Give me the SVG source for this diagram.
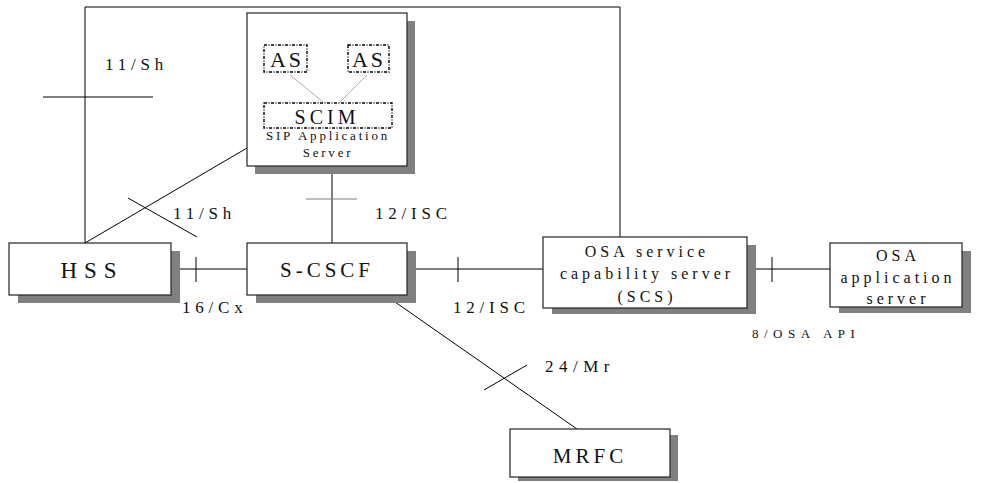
<svg xmlns="http://www.w3.org/2000/svg" width="990" height="483" viewBox="0 0 990 483">
<style>
.box{fill:#fff;stroke:#222;stroke-width:1.2}
.sh{fill:#808080}
.dot{fill:none;stroke:#000;stroke-width:1.4;stroke-dasharray:3 1.5 1 1.5}
.ln{stroke:#000;stroke-width:1;fill:none}
.t{font-family:"Liberation Serif","Times New Roman",serif;fill:#111}
.big{font-size:21px;letter-spacing:4px}
.lbl{font-size:17px;letter-spacing:4.8px}
.mid{font-size:16px;letter-spacing:4px;text-anchor:middle}
</style>
<rect width="990" height="483" fill="#fff"/>
<g id="connectors">
<polyline class="ln" points="85,243 85,7 620,7 620,237" stroke="#333"/>
<line class="ln" x1="43" y1="97" x2="153" y2="97"/>
<line class="ln" x1="85" y1="243" x2="247" y2="148"/>
<line class="ln" x1="128" y1="198" x2="197" y2="237"/>
<line class="ln" x1="332" y1="166" x2="332" y2="243"/>
<line x1="306" y1="199" x2="357" y2="199" stroke="#808080" stroke-width="1.2"/>
<line class="ln" x1="171" y1="269" x2="247" y2="269"/>
<line class="ln" x1="196" y1="257" x2="196" y2="282"/>
<line class="ln" x1="407" y1="269" x2="543" y2="269"/>
<line class="ln" x1="458" y1="257" x2="458" y2="282"/>
<line class="ln" x1="747" y1="269" x2="830" y2="269"/>
<line class="ln" x1="772" y1="257" x2="772" y2="282"/>
<line class="ln" x1="385" y1="295" x2="577" y2="429"/>
<line class="ln" x1="484" y1="390" x2="527" y2="365"/>
<text class="t lbl" x="105" y="70">11/Sh</text>
<text class="t lbl" x="173" y="219">11/Sh</text>
<text class="t lbl" x="375" y="219">12/ISC</text>
<text class="t lbl" x="182" y="313">16/Cx</text>
<text class="t lbl" x="453" y="313">12/ISC</text>
<text class="t lbl" x="545" y="372" style="letter-spacing:5.5px">24/Mr</text>
<text class="t" x="752" y="338" style="font-size:13px;letter-spacing:5.5px">8/OSA API</text>
</g>
<g id="sip-as">
<rect class="sh" x="255" y="21" width="160" height="153"/>
<rect class="box" x="247" y="13" width="160" height="153"/>
<line x1="290" y1="75" x2="323" y2="102" stroke="#999" stroke-width="0.8"/>
<line x1="367" y1="75" x2="340" y2="102" stroke="#999" stroke-width="0.8"/>
<rect class="dot" x="264" y="45" width="43" height="27"/>
<text class="t" x="287" y="67" style="font-size:22px;letter-spacing:3px;text-anchor:middle">AS</text>
<rect class="dot" x="348" y="45" width="41" height="27"/>
<text class="t" x="369" y="67" style="font-size:22px;letter-spacing:3px;text-anchor:middle">AS</text>
<rect class="dot" x="264" y="103" width="128" height="25"/>
<text class="t" x="327" y="124" style="font-size:20px;letter-spacing:4px;text-anchor:middle">SCIM</text>
<text class="t" x="328" y="140" style="font-size:13px;letter-spacing:2.8px;text-anchor:middle">SIP Application</text>
<text class="t" x="328" y="157" style="font-size:13px;letter-spacing:2.8px;text-anchor:middle">Server</text>
</g>
<g id="hss">
<rect class="sh" x="18" y="251" width="162" height="52"/>
<rect class="box" x="9" y="243" width="162" height="52"/>
<text class="t" x="92" y="278" style="font-size:23px;letter-spacing:7px;text-anchor:middle">HSS</text>
</g>
<g id="s-cscf">
<rect class="sh" x="256" y="251" width="160" height="52"/>
<rect class="box" x="247" y="243" width="160" height="52"/>
<text class="t big" x="327" y="277" text-anchor="middle">S-CSCF</text>
</g>
<g id="osa-scs">
<rect class="sh" x="552" y="245" width="204" height="69"/>
<rect class="box" x="543" y="237" width="204" height="71"/>
<text class="t mid" x="647" y="257">OSA service</text>
<text class="t mid" x="647" y="279">capability server</text>
<text class="t mid" x="647" y="302">(SCS)</text>
</g>
<g id="osa-app">
<rect class="sh" x="839" y="251" width="132" height="62"/>
<rect class="box" x="830" y="243" width="132" height="64"/>
<text class="t mid" x="898" y="261">OSA</text>
<text class="t mid" x="898" y="283">application</text>
<text class="t mid" x="898" y="304">server</text>
</g>
<g id="mrfc">
<rect class="sh" x="518" y="435" width="160" height="46"/>
<rect class="box" x="510" y="429" width="160" height="48"/>
<text class="t" x="590" y="463" style="font-size:21px;letter-spacing:4px;text-anchor:middle">MRFC</text>
</g>
</svg>
